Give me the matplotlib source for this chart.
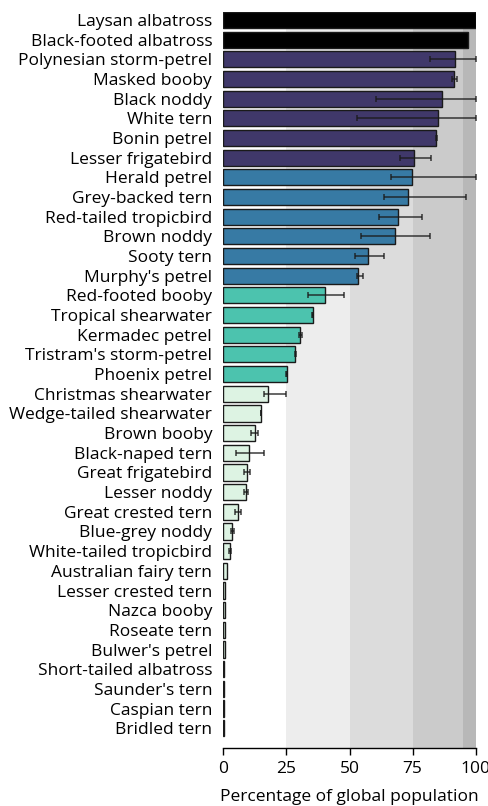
import numpy as np
import matplotlib.pyplot as plt
plt.rcParams.update({'font.family': 'Open Sans'})
plt.rcParams.update({'font.size': 12.5})

species = ["Laysan albatross", "Black-footed albatross", "Polynesian storm-petrel",
           "Masked booby", "Black noddy", "White tern", "Bonin petrel",
           "Lesser frigatebird", "Herald petrel", "Grey-backed tern",
           "Red-tailed tropicbird", "Brown noddy", "Sooty tern", "Murphy's petrel",
           "Red-footed booby", "Tropical shearwater", "Kermadec petrel",
           "Tristram's storm-petrel", "Phoenix petrel", "Christmas shearwater",
           "Wedge-tailed shearwater", "Brown booby", "Black-naped tern",
           "Great frigatebird", "Lesser noddy", "Great crested tern",
           "Blue-grey noddy", "White-tailed tropicbird", "Australian fairy tern",
           "Lesser crested tern", "Nazca booby", "Roseate tern", "Bulwer's petrel",
           "Short-tailed albatross", "Saunder's tern", "Caspian tern", "Bridled tern"]

pct = [100, 97.1, 91.8, 91.5, 86.6, 85.1, 84.3, 75.4, 74.9, 73.0, 69.3, 68.2,
       57.2, 53.5, 40.4, 35.4, 30.5, 28.5, 25.1, 17.8, 14.9, 12.4, 10.3, 9.4,
       8.9, 5.7, 3.6, 2.5, 1.5, 0.8, 0.7, 0.7, 0.6, 0.3, 0.3, 0.3, 0.3]

low = [100, 97.1, 82.0, 90.7, 60.6, 52.8, 84.1, 70.1, 66.6, 63.7, 61.7, 54.6,
       52.3, 52.8, 33.6, 35.2, 30.1, 28.4, 25.0, 16.2, 14.8, 11.1, 4.9, 8.3,
       8.3, 4.6, 3.2, 2.2, 1.5, 0.8, 0.7, 0.7, 0.6, 0.3, 0.3, 0.3, 0.3]

high = [100, 97.1, 100, 92.6, 100, 100, 84.6, 82.3, 100, 96.0, 78.6, 81.8,
        63.7, 55.5, 47.8, 35.6, 31.3, 28.7, 25.3, 24.8, 15.1, 13.9, 16.2, 10.4,
        9.9, 6.9, 4.1, 3.1, 1.5, 0.8, 0.7, 0.7, 0.6, 0.3, 0.3, 0.3, 0.3]

group = [0]*2 + [1]*6 + [2]*6 + [3]*5 + [4]*18
group_colors = ['#000000', '#40386a', '#377aa4', '#4cc3ae', '#ddf3e3']

bands = [(25, 50, '#ededed'), (50, 75, '#dcdcdc'), (75, 95, '#cbcbcb'), (95, 100, '#b8b8b8')]

fig = plt.figure(figsize=(4.88, 8.06), dpi=100)
ax = fig.add_axes([223.3/488, 1-748.3/806, 252.4/488, 736.6/806])

for a, b, c in bands:
    ax.axvspan(a, b, color=c, lw=0, zorder=0)

y = np.arange(len(species))
pct = np.array(pct)
xerr = np.array([pct - np.array(low), np.array(high) - pct])
ax.barh(y, pct, height=0.82, color=[group_colors[g] for g in group],
        edgecolor='#1a1a1a', linewidth=1.0, zorder=2)
has = xerr.sum(axis=0) > 0.05
ax.errorbar(pct[has], y[has], xerr=xerr[:, has], fmt='none', ecolor='#1a1a1a',
            elinewidth=1.1, capsize=2.5, capthick=1.1, alpha=0.85, zorder=3)

ax.set_yticks(y)
ax.set_yticklabels(species)
ax.set_ylim(37.02, -0.42)
ax.set_xlim(0, 100)
ax.set_xticks([0, 25, 50, 75, 100])
ax.tick_params(axis='y', length=0, pad=8)
ax.tick_params(axis='x', length=5, width=1, pad=4)
for s in ['top', 'right', 'left']:
    ax.spines[s].set_visible(False)
ax.spines['bottom'].set_linewidth(1)
ax.set_xlabel('Percentage of global population', labelpad=9)

fig.savefig('out.png', dpi=100)
